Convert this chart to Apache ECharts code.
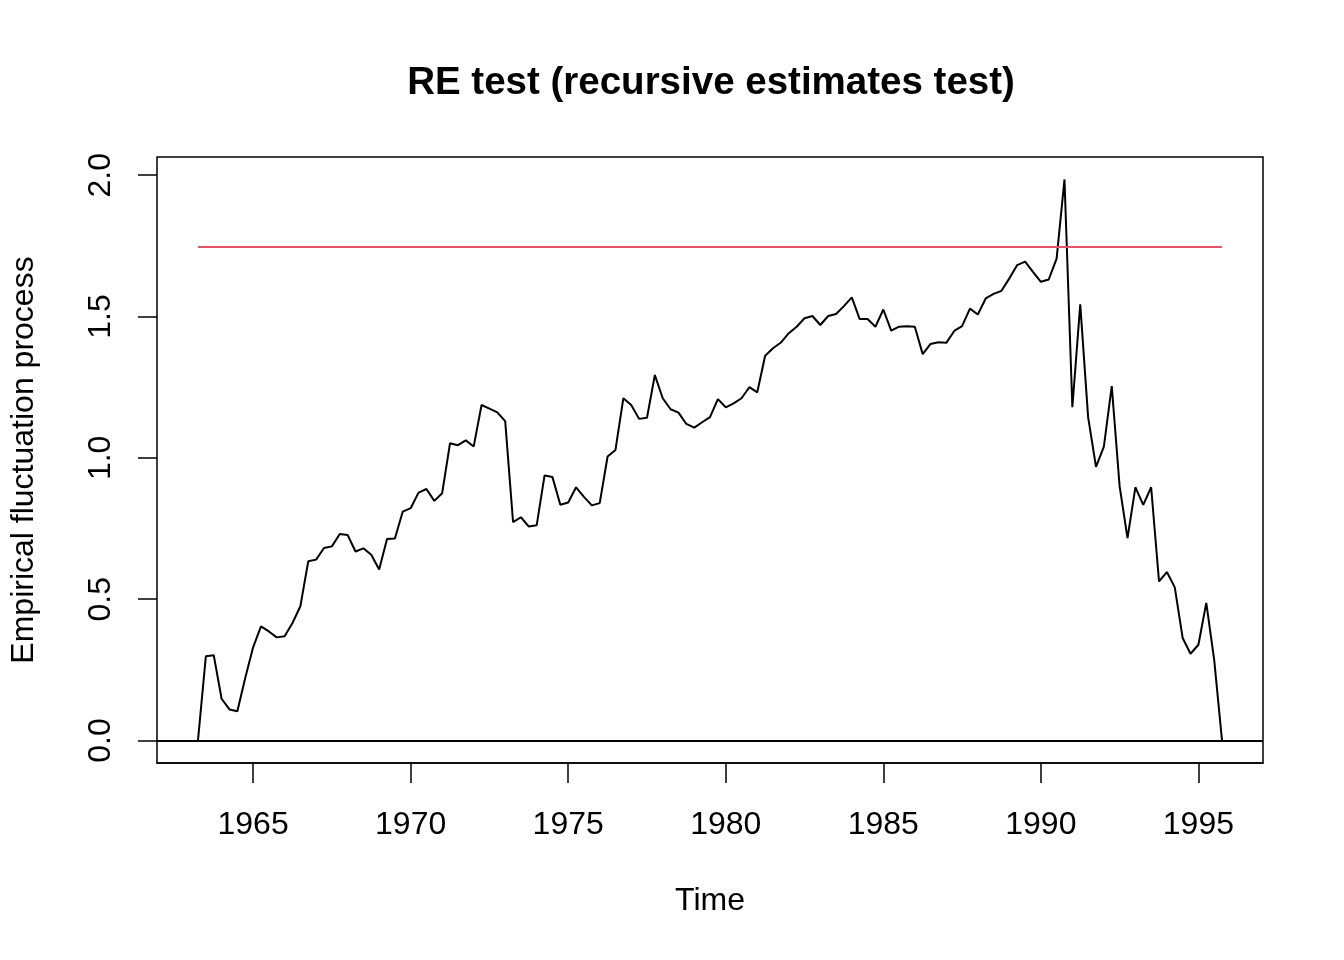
<!DOCTYPE html>
<html>
<head>
<meta charset="utf-8">
<script src="https://cdn.jsdelivr.net/npm/echarts@6/dist/echarts.min.js"></script>
<style>
html,body{margin:0;padding:0;background:#fff;}
#c{width:1344px;height:960px;}
</style>
</head>
<body>
<div id="c"></div>
<script>
// quarterly series, start 1963 Q2 (1963.25), frequency 4
var startTime = 1963.25;
var frequency = 4;
var fluctuation = [
  0.000, 0.298, 0.302,
  0.148, 0.110, 0.104, 0.221,
  0.330, 0.404, 0.386, 0.365,
  0.369, 0.416, 0.475, 0.634,
  0.640, 0.681, 0.687, 0.731,
  0.727, 0.669, 0.680, 0.657,
  0.605, 0.713, 0.715, 0.810,
  0.822, 0.877, 0.890, 0.848,
  0.875, 1.052, 1.045, 1.062,
  1.040, 1.187, 1.174, 1.161,
  1.130, 0.773, 0.790, 0.757,
  0.762, 0.938, 0.932, 0.834,
  0.842, 0.896, 0.862, 0.832,
  0.840, 1.005, 1.028, 1.211,
  1.187, 1.138, 1.142, 1.293,
  1.211, 1.172, 1.160, 1.120,
  1.107, 1.126, 1.144, 1.208,
  1.179, 1.193, 1.211, 1.250,
  1.232, 1.361, 1.388, 1.408,
  1.441, 1.464, 1.494, 1.502,
  1.470, 1.502, 1.509, 1.537,
  1.568, 1.491, 1.491, 1.464,
  1.525, 1.450, 1.464, 1.466,
  1.464, 1.367, 1.403, 1.409,
  1.407, 1.449, 1.466, 1.528,
  1.507, 1.564, 1.580, 1.591,
  1.635, 1.682, 1.694, 1.658,
  1.623, 1.631, 1.705, 1.985,
  1.179, 1.543, 1.144, 0.968,
  1.040, 1.254, 0.899, 0.716,
  0.896, 0.834, 0.896, 0.563,
  0.596, 0.542, 0.363, 0.307,
  0.339, 0.487, 0.286, 0.000
];
var boundary = 1.746;
var xTicks = [1965, 1970, 1975, 1980, 1985, 1990, 1995];
var yTicks = [0, 0.5, 1, 1.5, 2];
var yTickLabels = ['0.0', '0.5', '1.0', '1.5', '2.0'];
var titleText = 'RE test (recursive estimates test)';
var xLabel = 'Time';
var yLabel = 'Empirical fluctuation process';

var times = fluctuation.map(function(v, i){ return startTime + i / frequency; });
var lineData = fluctuation.map(function(v, i){ return [times[i], v]; });
var tFirst = times[0], tLast = times[times.length - 1];
var xPad = (tLast - tFirst) * 0.04;
var yMinD = Math.min.apply(null, fluctuation), yMaxD = Math.max.apply(null, fluctuation);
var yPad = (yMaxD - yMinD) * 0.04;
var FONT = '"Liberation Sans", Arial, Helvetica, sans-serif';

var chart = echarts.init(document.getElementById('c'), null, {renderer: 'canvas'});
chart.setOption({
  animation: false,
  backgroundColor: '#ffffff',
  title: {
    text: titleText,
    left: 706, top: 59, textAlign: 'center',
    textStyle: {fontFamily: FONT, fontSize: 38.5, fontWeight: 'bold', color: '#000'}
  },
  grid: {
    left: 157, right: 81, top: 157, bottom: 197,
    show: true, borderColor: '#000', borderWidth: 1.5, backgroundColor: 'transparent'
  },
  xAxis: {
    type: 'value',
    min: tFirst - xPad, max: tLast + xPad,
    name: xLabel, nameLocation: 'middle', nameGap: 122,
    nameTextStyle: {fontFamily: FONT, fontSize: 32, color: '#000'},
    axisLine: {show: true, onZero: false, lineStyle: {color: '#000', width: 1.5}},
    splitLine: {show: false},
    axisTick: {show: true, inside: false, length: 20, customValues: xTicks,
      lineStyle: {color: '#000', width: 1.5}},
    axisLabel: {show: true, customValues: xTicks, margin: 46,
      fontFamily: FONT, fontSize: 32, color: '#000',
      formatter: function(v){ return String(Math.round(v)); }}
  },
  yAxis: {
    type: 'value',
    min: yMinD - yPad, max: yMaxD + yPad,
    name: yLabel, nameLocation: 'middle', nameGap: 117, nameRotate: 90,
    nameTextStyle: {fontFamily: FONT, fontSize: 32, color: '#000'},
    axisLine: {show: false, onZero: false},
    splitLine: {show: false},
    axisTick: {show: true, inside: false, length: 19, customValues: yTicks,
      lineStyle: {color: '#000', width: 1.5}},
    axisLabel: {show: true, customValues: yTicks, rotate: 90, margin: 40,
      fontFamily: FONT, fontSize: 32, color: '#000',
      formatter: function(v){
        var idx = yTicks.indexOf(Math.round(v * 10) / 10);
        return idx >= 0 ? yTickLabels[idx] : '';
      }}
  },
  series: [
    {
      type: 'line', data: lineData, symbol: 'none', silent: true,
      lineStyle: {color: '#000', width: 2},
      markLine: {
        symbol: 'none', silent: true, label: {show: false},
        lineStyle: {color: '#000', width: 2, type: 'solid'},
        data: [{yAxis: 0}]
      }
    },
    {
      type: 'line', data: [[tFirst, boundary], [tLast, boundary]], symbol: 'none', silent: true,
      lineStyle: {color: '#DF536B', width: 2}
    }
  ]
});
</script>
</body>
</html>
